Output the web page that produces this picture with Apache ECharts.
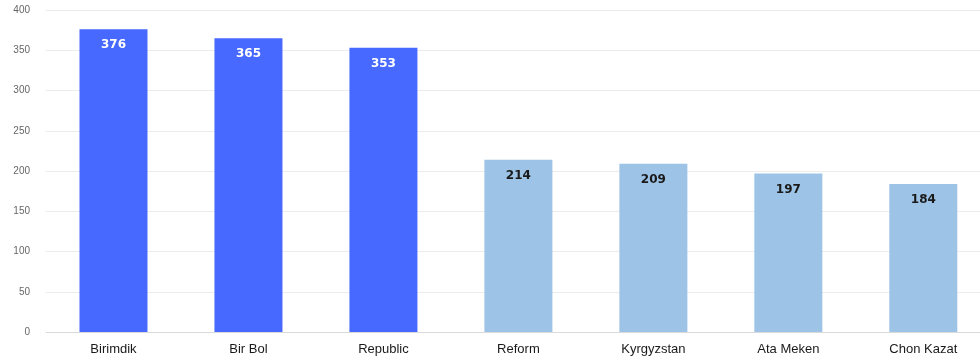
<!DOCTYPE html>
<html>
<head>
<meta charset="utf-8">
<script src="https://cdn.jsdelivr.net/npm/echarts@6/dist/echarts.min.js"></script>
<style>
  html, body { margin: 0; padding: 0; background: #fff; }
  #chart { width: 980px; height: 362px; }
</style>
</head>
<body>
<div id="chart"></div>
<script>
// 党派名称
var categories = ["Birimdik", "Bir Bol", "Republic", "Reform", "Kyrgyzstan", "Ata Meken", "Chon Kazat"];
// 数值
var values = [376, 365, 353, 214, 209, 197, 184];
// 纵轴刻度
var yTicks = [0, 50, 100, 150, 200, 250, 300, 350, 400];
// 前几名用深色
var topCount = 3;

var chart = echarts.init(document.getElementById("chart"));

// 横轴用数值轴, 最后一根柱子右侧被画布截断
var seriesData = [];
var positions = [];
for (var i = 0; i < values.length; i++) {
  var isLead = i < topCount;
  positions.push(i);
  seriesData.push({
    value: [i, values[i]],
    itemStyle: { color: isLead ? "#4769ff" : "#9dc3e6" },
    label: { color: isLead ? "#ffffff" : "#1a1a1a" }
  });
}

chart.setOption({
  animation: false,
  grid: { left: 46, right: 0, top: 10, bottom: 30 },
  xAxis: {
    type: "value",
    min: -0.5,
    max: 6.42,
    splitLine: { show: false },
    axisTick: { show: false },
    axisLine: { onZero: false, lineStyle: { color: "#d9d9d9" } },
    axisLabel: {
      customValues: positions,
      showMinLabel: true,
      showMaxLabel: true,
      formatter: function (v) { return categories[Math.round(v)] || ""; },
      color: "#1a1a1a", fontSize: 13, fontFamily: "Liberation Sans", margin: 11
    }
  },
  yAxis: {
    type: "value",
    min: yTicks[0],
    max: yTicks[yTicks.length - 1],
    interval: yTicks[1] - yTicks[0],
    axisLine: { show: false },
    axisTick: { show: false },
    splitLine: { lineStyle: { color: "#ececec" } },
    axisLabel: { color: "#666", fontSize: 10, fontFamily: "Liberation Sans", margin: 16 }
  },
  series: [{
    type: "bar",
    barWidth: 68,
    data: seriesData,
    label: {
      show: true,
      position: "insideTop",
      distance: 10,
      fontSize: 12,
      fontWeight: "bold",
      fontFamily: "DejaVu Sans",
      formatter: function (p) { return p.value[1]; }
    }
  }]
});
</script>
</body>
</html>
